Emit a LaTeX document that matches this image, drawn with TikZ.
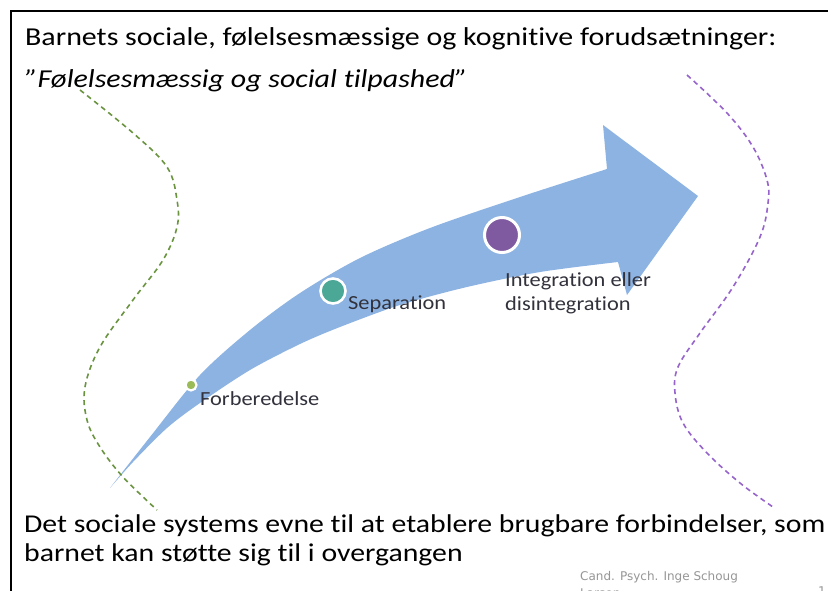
\documentclass[tikz,border=0pt]{standalone}
\usepackage{fontspec}
\setmainfont{Carlito}[Ligatures={NoCommon}]
\newfontfamily\headfont{Carlito}[Ligatures={NoCommon},FakeStretch=1.16]
\newfontfamily\lblfont{Carlito}[Ligatures={NoCommon},FakeStretch=1.12]
\newfontfamily\footfont{DejaVu Sans}
\definecolor{arrowblue}{RGB}{141,179,226}
\definecolor{dashgreen}{RGB}{106,148,64}
\definecolor{dashpurple}{RGB}{150,100,204}
\definecolor{dotgreen}{RGB}{155,187,89}
\definecolor{dotteal}{RGB}{75,168,150}
\definecolor{dotpurple}{RGB}{128,90,160}
\definecolor{lbl}{RGB}{50,50,60}
\definecolor{foot}{RGB}{150,150,150}
\begin{document}
\begin{tikzpicture}[x=1pt,y=-1pt,
  headtext/.style={font=\headfont\fontsize{25.8}{30}\selectfont, text=black, inner sep=0pt, anchor=base west},
  bottext/.style={font=\headfont\fontsize{25.65}{30}\selectfont, text=black, inner sep=0pt, anchor=base west},
  steplbl/.style={font=\lblfont\fontsize{20}{24}\selectfont, text=lbl, inner sep=0pt, anchor=base west},
  stagedot/.style={circle, draw=white, inner sep=0pt},
  wavy/.style={line width=1.6pt, dash pattern=on 5pt off 4pt},
  foottext/.style={font=\footfont\fontsize{12}{14}\selectfont, text=foot, inner sep=0pt, anchor=base west}]
\useasboundingbox (0,0) rectangle (828,590);
\fill[white] (0,0) rectangle (828,590);
% frame
\draw[line width=2pt] (11,592) -- (11,11) -- (830,11);
% big curved arrow
\fill[arrowblue] plot[smooth,tension=0.5] coordinates {(110,488) (150,437) (200,375) (250,330) (300,293) (360,258) (430,228) (520,197) (607,169)}
  -- (603,125) -- (698,196) -- (627,295) -- (618,262)
  -- plot[smooth,tension=0.5] coordinates {(618,262) (540,272) (467,287) (400,305) (340,327) (300,344) (250,370) (200,403) (167,428) (133,462) (110,488)} -- cycle;
% dashed boundaries
\draw[wavy, dashgreen] plot[smooth,tension=0.6] coordinates {(80,90) (133,133) (167,167) (177,200) (177,227) (163,260) (133,300) (100,347) (85,387) (87,420) (100,447) (123,477) (157,510)};
\draw[wavy, dashpurple] plot[smooth,tension=0.6] coordinates {(687,75) (727,113) (753,147) (767,180) (768,203) (760,237) (733,287) (700,333) (678,367) (675,393) (683,423) (707,453) (740,483) (773,507)};
% stage dots
\node[stagedot, fill=dotgreen, minimum size=11pt, line width=2.2pt] (d1) at (191,385) {};
\node[stagedot, fill=dotteal, minimum size=25pt, line width=2.6pt] (d2) at (333,291) {};
\node[stagedot, fill=dotpurple, minimum size=35pt, line width=3pt] (d3) at (502,235) {};
% stage labels
\node[steplbl] (l1) at (200,405) {Forberedelse};
\node[steplbl] (l2) at (348,309) {Separation};
\node[steplbl] (l3a) at (505,286) {Integration eller};
\node[steplbl] (l3b) at (505,310) {disintegration};
% headings
\node[headtext] (t1) at (25,45) {Barnets sociale, følelsesmæssige og kognitive forudsætninger:};
\node[headtext] (t2) at (25,87) {\itshape ”Følelsesmæssig og social tilpashed”};
\node[bottext] (b1) at (24,532) {Det sociale systems evne til at etablere brugbare forbindelser, som};
\node[bottext] (b2) at (24,561) {barnet kan støtte sig til i overgangen};
% footer
\node[foottext] (f1) at (580,580) {Cand. Psych. Inge Schoug};
\node[foottext] (f2) at (580,597) {Larsen};
\node[foottext] (f3) at (818,595) {1};
\end{tikzpicture}
\end{document}
